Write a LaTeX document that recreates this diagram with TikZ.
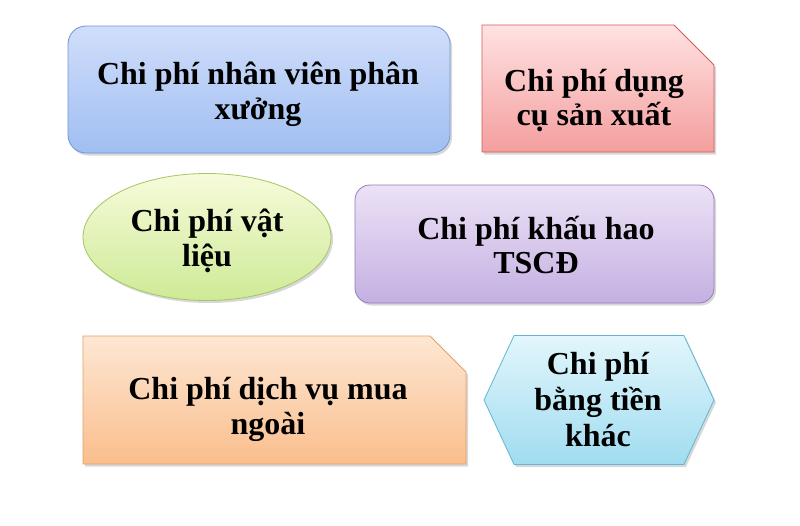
\documentclass[tikz,border=0pt]{standalone}
\usepackage{fontspec}
\setmainfont{Liberation Serif}
\usetikzlibrary{shapes.misc,shapes.symbols,shapes.geometric,shadows}
\definecolor{bluetop}{RGB}{208,222,250}
\definecolor{bluebot}{RGB}{160,190,242}
\definecolor{blueline}{RGB}{112,150,210}
\definecolor{redtop}{RGB}{255,226,226}
\definecolor{redbot}{RGB}{244,158,158}
\definecolor{redline}{RGB}{210,90,90}
\definecolor{greentop}{RGB}{246,251,218}
\definecolor{greenbot}{RGB}{206,234,150}
\definecolor{greenline}{RGB}{165,198,100}
\definecolor{purptop}{RGB}{236,226,246}
\definecolor{purpbot}{RGB}{196,176,226}
\definecolor{purpline}{RGB}{150,122,190}
\definecolor{orgtop}{RGB}{253,231,212}
\definecolor{orgbot}{RGB}{250,190,140}
\definecolor{orgline}{RGB}{228,160,100}
\definecolor{cyantop}{RGB}{226,246,252}
\definecolor{cyanbot}{RGB}{160,220,240}
\definecolor{cyanline}{RGB}{100,180,210}
\newcommand{\boxspace}{\phantom{\rule{160pt}{80pt}}}
\begin{document}
\begin{tikzpicture}[x=1pt,y=-1pt,
  box/.style={draw, line width=0.8pt, inner sep=0pt,
    drop shadow={shadow xshift=2pt, shadow yshift=-2.5pt, opacity=0.3}},
  txt/.style={anchor=base, inner sep=0pt, font=\fontsize{32}{35}\selectfont\bfseries},
  bluebox/.style={box, rounded corners=18pt, draw=blueline, top color=bluetop, bottom color=bluebot},
  redbox/.style={box, chamfered rectangle, chamfered rectangle corners=north east,
    chamfered rectangle xsep=20pt, chamfered rectangle ysep=20pt,
    draw=redline, top color=redtop, bottom color=redbot},
  greenbox/.style={box, ellipse, draw=greenline, top color=greentop, bottom color=greenbot},
  purpbox/.style={box, rounded corners=15pt, draw=purpline, top color=purptop, bottom color=purpbot},
  orgbox/.style={box, chamfered rectangle, chamfered rectangle corners=north east,
    chamfered rectangle xsep=18pt, chamfered rectangle ysep=18pt,
    draw=orgline, top color=orgtop, bottom color=orgbot},
  cyanbox/.style={box, signal, signal to=east and west, signal pointer angle=130,
    draw=cyanline, top color=cyantop, bottom color=cyanbot}
]
\useasboundingbox (0,0) rectangle (800,525);
\fill[white] (0,0) rectangle (800,525);
% shapes
\node[bluebox, minimum width=382pt, minimum height=127pt] (nhanvien) at (259,89.5) {};
\node[redbox, minimum width=232pt, minimum height=127pt] (dungcu) at (598,88.5) {\boxspace};
\node[greenbox, minimum width=248pt, minimum height=127pt] (vatlieu) at (207,237) {};
\node[purpbox, minimum width=359pt, minimum height=118pt] (khauhao) at (534.5,244) {};
\node[orgbox, minimum width=383pt, minimum height=128pt] (dichvu) at (274.5,400) {\boxspace};
\node[cyanbox, minimum width=230pt, minimum height=129pt] (bangtien) at (599,400) {};
% texts (one node per printed line, placed on its baseline)
\node[txt] (nhanvien1) at (258,84) {Chi phí nhân viên phân};
\node[txt] (nhanvien2) at (258,119) {xưởng};
\node[txt] (dungcu1) at (594,91) {Chi phí dụng};
\node[txt] (dungcu2) at (594,125) {cụ sản xuất};
\node[txt] (vatlieu1) at (207,231) {Chi phí vật};
\node[txt] (vatlieu2) at (207,266) {liệu};
\node[txt] (khauhao1) at (536,239) {Chi phí khấu hao};
\node[txt] (khauhao2) at (536,273) {TSCĐ};
\node[txt] (dichvu1) at (268,399) {Chi phí dịch vụ mua};
\node[txt] (dichvu2) at (268,434) {ngoài};
\node[txt] (bangtien1) at (598,374) {Chi phí};
\node[txt] (bangtien2) at (598,410) {bằng tiền};
\node[txt] (bangtien3) at (598,446) {khác};
\end{tikzpicture}
\end{document}
